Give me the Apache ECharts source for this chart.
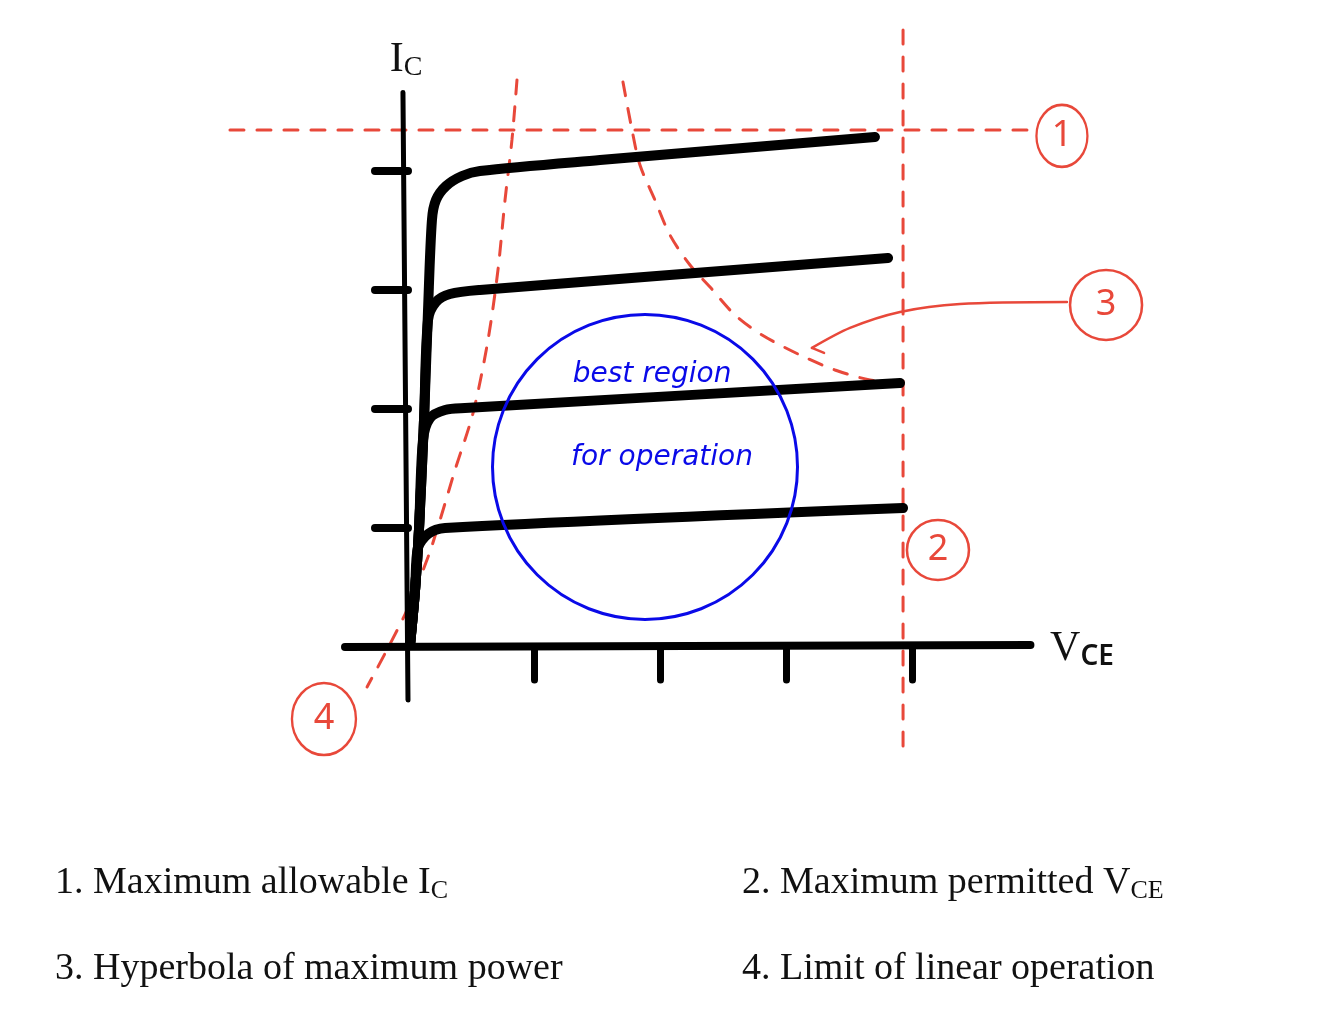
<!DOCTYPE html>
<html>
	<head>
		<meta charset="utf-8">
		<title>Transistor operating limits</title>
		<style type="text/css">
			body { margin: 0; background: #fff; }
			#main { width: 1334px; height: 1026px; }
		</style>
	</head>
	<body>
		<div id="main"></div>
		<script src="https://cdn.jsdelivr.net/npm/echarts@6/dist/echarts.min.js"></script>
		<script type="text/javascript">
			// values are [V_CE, I_C] in tick units (one tick = 1)
			var curve1 = [[0.016, 0.017], [0.056, 0.479], [0.087, 0.983], [0.127, 1.908], [0.159, 2.832], [0.190, 3.588], [0.222, 3.756], [0.302, 3.874], [0.429, 3.958], [0.571, 4.0], [1.524, 4.092], [3.706, 4.286]];
			var curve2 = [[0.016, 0.017], [0.056, 0.479], [0.087, 0.983], [0.127, 1.908], [0.159, 2.748], [0.222, 2.899], [0.333, 2.966], [0.571, 3.0], [3.810, 3.269]];
			var curve3 = [[0.016, 0.017], [0.056, 0.479], [0.087, 0.983], [0.119, 1.739], [0.175, 1.924], [0.294, 1.992], [0.452, 2.008], [3.905, 2.218]];
			var curve4 = [[0.016, 0.017], [0.056, 0.479], [0.079, 0.832], [0.159, 0.950], [0.294, 1.0], [3.929, 1.168]];

			var icAxis = [[-0.04, 4.66], [0, -0.445]];
			var vceAxis = [[-0.5, 0], [4.94, 0.016]];
			var tickValues = [1, 2, 3, 4];

			var maxIc = [[-1.413, 4.345], [5.0, 4.345]];
			var maxVce = [[3.929, 5.185], [3.929, -0.908]];
			var hyperbola = [[1.706, 4.748], [1.778, 4.345], [1.841, 4.050], [1.960, 3.756], [2.079, 3.462], [2.238, 3.210], [2.397, 3.025], [2.595, 2.790], [2.810, 2.622], [3.111, 2.454], [3.389, 2.328], [3.667, 2.244], [3.921, 2.218]];
			var linearLimit = [[0.865, 4.765], [0.825, 4.261], [0.770, 3.756], [0.714, 3.168], [0.635, 2.580], [0.516, 1.966], [0.373, 1.487], [0.254, 1.067], [0.159, 0.756], [-0.008, 0.311], [-0.159, -0.008], [-0.325, -0.336]];
			var pointer3 = [[3.206, 2.513], [3.508, 2.681], [3.905, 2.815], [4.381, 2.882], [5.230, 2.899]];
			var pointer3Tip = [[3.302, 2.471], [3.206, 2.513]];

			var bestRegion = [[1.881, 1.513]];
			var notes = [[1.937, 2.286, 'best region'], [2.016, 1.588, 'for operation']];
			var marks = [[5.190, 4.295, '1'], [4.206, 0.815, '2'], [5.540, 2.874, '3'], [-0.667, -0.605, '4']];
			var axisNames = [[-0.016, 4.93, 'I{s|C}'], [5.349, -0.02, 'V{t|CE}']];
			var legendItems = ['1. Maximum allowable I{s|C}', '2. Maximum permitted V{s|CE}', '3. Hyperbola of maximum power', '4. Limit of linear operation'];

			var red = '#e8483a';
			var blue = '#0a0ae8';
			var markSizes = [[51, 62], [62, 60], [72, 70], [64, 72]];
			var legendPos = [[55, 862], [742, 862], [55, 950], [742, 950]];

			var myChart = echarts.init(document.getElementById('main'));

			function blackLine(data, width, smooth) {
				return {
					type: 'line', data: data, smooth: smooth, symbol: 'none', clip: false, silent: true,
					lineStyle: { color: '#000', width: width, cap: 'round', join: 'round' }, z: 5
				};
			}
			function redLine(data, smooth, dashed) {
				return {
					type: 'line', data: data, smooth: smooth, symbol: 'none', clip: false, silent: true,
					lineStyle: { color: red, width: dashed ? 3 : 2.5, type: dashed ? [14, 13] : 'solid', cap: 'round' }, z: 3
				};
			}

			var option = {
				animation: false,
				backgroundColor: '#fff',
				title: legendItems.map(function (t, i) {
					return {
						text: t, left: legendPos[i][0], top: legendPos[i][1], padding: 0,
						textStyle: {
							fontFamily: 'Liberation Serif', fontSize: 38, fontWeight: 'normal', color: '#111',
							rich: { s: { fontFamily: 'Liberation Serif', fontSize: 26, color: '#111', padding: [16, 0, 0, 0] } }
						}
					};
				}),
				grid: { left: 219, top: 16.3, width: 907.2, height: 749.7, containLabel: false },
				xAxis: {
					type: 'value', min: -1.5, max: 5.7,
					axisLine: { show: false, onZero: true },
					axisTick: { customValues: tickValues, length: 33, lineStyle: { color: '#000', width: 7, cap: 'round' } },
					axisLabel: { show: false },
					splitLine: { show: false }
				},
				yAxis: {
					type: 'value', min: -1.0, max: 5.3,
					axisLine: { show: false, onZero: true },
					axisTick: { customValues: tickValues, length: 33, lineStyle: { color: '#000', width: 8, cap: 'round' } },
					axisLabel: { show: false },
					splitLine: { show: false }
				},
				series: [
					redLine(maxIc, false, true),
					redLine(maxVce, false, true),
					redLine(hyperbola, 0.3, true),
					redLine(linearLimit, 0.3, true),
					redLine(pointer3, 0.3, false),
					redLine(pointer3Tip, false, false),
					blackLine(icAxis, 5, false),
					blackLine(vceAxis, 8, false),
					blackLine(curve1, 10, 0.3),
					blackLine(curve2, 10, 0.3),
					blackLine(curve3, 10, 0.3),
					blackLine(curve4, 10, 0.3),
					{
						type: 'scatter', data: bestRegion, symbolSize: 305, clip: false, silent: true,
						itemStyle: { color: 'transparent', borderColor: blue, borderWidth: 3, opacity: 1 }, z: 6
					},
					{
						type: 'scatter', data: notes, symbolSize: 1, clip: false, silent: true,
						itemStyle: { color: 'transparent', opacity: 1 },
						label: {
							show: true, position: 'inside', formatter: function (p) { return p.data[2]; },
							fontFamily: 'DejaVu Sans', fontStyle: 'italic', fontSize: 28, color: blue
						}, z: 7
					},
					{
						type: 'scatter', data: axisNames, symbolSize: 1, clip: false, silent: true,
						itemStyle: { color: 'transparent', opacity: 1 },
						label: {
							show: true, position: 'inside', formatter: function (p) { return p.data[2]; },
							fontFamily: 'Liberation Serif', fontSize: 42, color: '#111',
							rich: {
								s: { fontFamily: 'Liberation Serif', fontSize: 28, color: '#111', padding: [14, 0, 0, 0] },
								t: { fontFamily: 'Noto Sans', fontSize: 28, fontWeight: 600, color: '#111', padding: [16, 0, 0, 0] }
							}
						}, z: 7
					},
					{
						type: 'scatter', clip: false, silent: true,
						data: marks.map(function (m, i) {
							return { value: m, symbolSize: markSizes[i] };
						}),
						itemStyle: { color: '#fff', borderColor: red, borderWidth: 2.5, opacity: 1 },
						label: {
							show: true, position: 'inside', formatter: function (p) { return p.data.value[2]; },
							fontFamily: 'Noto Sans', fontWeight: 400, fontSize: 36, color: red
						}, z: 8
					}
				]
			};
			myChart.setOption(option);
		</script>
	</body>
</html>
